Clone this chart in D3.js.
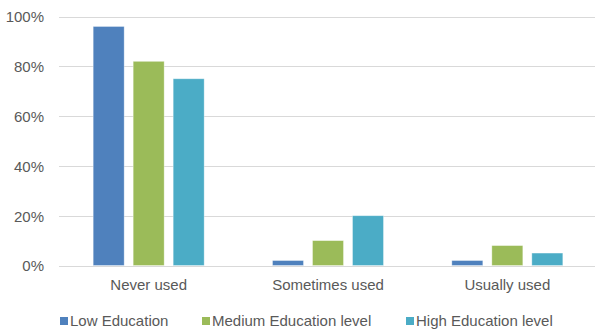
<!DOCTYPE html>
<html>
<head>
<meta charset="utf-8">
<script src="https://cdn.jsdelivr.net/npm/d3@7"></script>
<style>
  html, body { margin: 0; padding: 0; background: #ffffff; }
  svg { display: block; }
  text { font-family: "Liberation Sans", Arial, sans-serif; fill: #595959; }
</style>
</head>
<body>
<svg id="chart" width="595" height="332"></svg>
<script>
// Usage categories along the x axis
const categories = ["Never used", "Sometimes used", "Usually used"];
// Education-level series
const seriesNames = ["Low Education", "Medium Education level", "High Education level"];
const seriesColors = ["#4f81bd", "#9bbb59", "#4bacc6"];
// Share of respondents per category, one array per series
const lowEducation = [0.96, 0.02, 0.02];
const mediumEducation = [0.82, 0.10, 0.08];
const highEducation = [0.75, 0.20, 0.05];
// Y axis tick values
const yTicks = [0, 0.2, 0.4, 0.6, 0.8, 1.0];

const seriesValues = [lowEducation, mediumEducation, highEducation];

const svg = d3.select("#chart");
const W = 595, H = 332;
const plot = { left: 59, right: 597, top: 16.5, bottom: 265.5 };

const y = d3.scaleLinear().domain([0, 1]).range([plot.bottom, plot.top]);
const x = d3.scaleBand().domain(categories).range([plot.left, plot.right]).paddingInner(0).paddingOuter(0);
const groupWidth = 111;
const xs = d3.scaleBand().domain(seriesNames).range([0, groupWidth]).paddingInner(0.225).paddingOuter(0);

// Horizontal gridlines
svg.append("g")
  .selectAll("line")
  .data(yTicks)
  .join("line")
  .attr("x1", plot.left)
  .attr("x2", W)
  .attr("y1", d => Math.round(y(d)) + 0.5)
  .attr("y2", d => Math.round(y(d)) + 0.5)
  .attr("stroke", "#d9d9d9")
  .attr("stroke-width", 1);

// Y axis tick labels
const yAxis = d3.axisLeft(y).tickValues(yTicks).tickFormat(d3.format(".0%")).tickSize(0).tickPadding(0);
const yg = svg.append("g").attr("transform", `translate(${44},0)`).call(yAxis);
yg.select(".domain").remove();
yg.selectAll("text")
  .attr("font-size", 15)
  .attr("font-family", "Liberation Sans, Arial, sans-serif")
  .attr("fill", "#595959")
  .attr("dy", "0.36em");

// Bars
const groups = svg.append("g")
  .selectAll("g")
  .data(categories)
  .join("g")
  .attr("transform", c => `translate(${x(c) + x.bandwidth() / 2 - groupWidth / 2},0)`);

groups.selectAll("rect")
  .data((c, ci) => seriesNames.map((s, si) => ({ s, si, v: seriesValues[si][ci] })))
  .join("rect")
  .attr("x", d => xs(d.s))
  .attr("width", xs.bandwidth())
  .attr("y", d => y(d.v))
  .attr("height", d => y(0) - y(d.v))
  .attr("fill", d => seriesColors[d.si])
  .attr("stroke", "#ffffff")
  .attr("stroke-opacity", 0.45)
  .attr("stroke-width", 0.8);

// Baseline
svg.append("line")
  .attr("x1", plot.left).attr("x2", W)
  .attr("y1", Math.round(y(0)) + 0.5).attr("y2", Math.round(y(0)) + 0.5)
  .attr("stroke", "#d9d9d9").attr("stroke-width", 1.2);

// Category labels
const xAxis = d3.axisBottom(x).tickSize(0).tickPadding(0);
const xg = svg.append("g").attr("transform", `translate(0,${290})`).call(xAxis);
xg.select(".domain").remove();
xg.selectAll("text")
  .attr("font-size", 15)
  .attr("font-family", "Liberation Sans, Arial, sans-serif")
  .attr("fill", "#595959")
  .attr("dy", 0);

// Legend
const legendX = [60, 202, 406];
const legend = svg.append("g").selectAll("g")
  .data(seriesNames)
  .join("g")
  .attr("transform", (d, i) => `translate(${legendX[i]},${317})`);
legend.append("rect")
  .attr("width", 8).attr("height", 8)
  .attr("fill", (d, i) => seriesColors[i]);
legend.append("text")
  .attr("x", 10)
  .attr("y", 9)
  .attr("font-size", 15)
  .text(d => d);
</script>
</body>
</html>
